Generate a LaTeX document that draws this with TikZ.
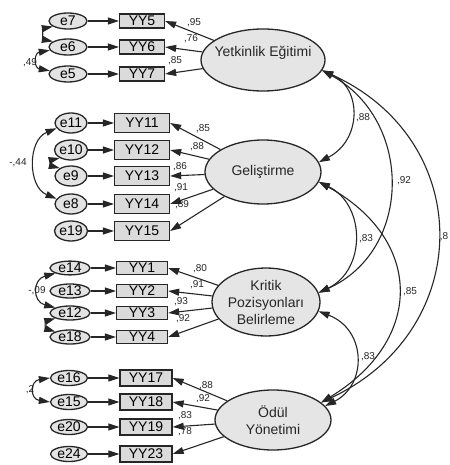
\documentclass[tikz,border=0pt]{standalone}
\usepackage{fontspec}
\setmainfont{Liberation Sans}
\usetikzlibrary{arrows.meta,shapes}

\begin{document}
\begin{tikzpicture}[x=1pt,y=-1pt,>={Triangle[length=11pt,width=7pt]},line width=1.1pt,
  obs/.style={draw=black!85,fill=black!14,line width=1.3pt,inner sep=0pt,font=\fontsize{14}{14}\selectfont},
  err/.style={draw=black!85,fill=black!11,line width=1.3pt,ellipse,inner sep=0pt,font=\fontsize{14}{14}\selectfont},
  lat/.style={draw=black!85,fill=black!10,line width=1.3pt,ellipse,inner sep=0pt},
  latname/.style={font=\fontsize{14}{17}\selectfont,align=center,text=black!85},
  coef/.style={font=\fontsize{10}{10}\selectfont,inner sep=0pt,text=black!85},
  load/.style={->,draw=black!85},
  cov/.style={<->,draw=black!85}]
\useasboundingbox (0,0) rectangle (449,465);

% factors
\node[lat,minimum width=124,minimum height=62,label={[latname,yshift=7pt]center:Yetkinlik Eğitimi}] (yetkin) at (263,60) {};
\node[lat,minimum width=116,minimum height=64,label={[latname]center:Geliştirme}] (gel) at (263,172) {};
\node[lat,minimum width=108,minimum height=68,label={[latname]center:Kritik\\Pozisyonları\\Belirleme}] (kritik) at (266,302) {};
\node[lat,minimum width=116,minimum height=60,label={[latname]center:Ödül\\Yönetimi}] (odul) at (273,420) {};

% items with their error terms
\foreach \e/\v/\y in {7/5/21,6/6/47,5/7/74}{
  \node[err,minimum width=38,minimum height=16] (e\e) at (68,\y) {e\e};
  \node[obs,minimum width=45,minimum height=14] (yy\v) at (142,\y) {YY\v};
  \draw[load] (e\e) -- (yy\v);
}
\foreach \e/\v/\y in {11/11/123,10/12/150,9/13/176,8/14/204,19/15/231}{
  \node[err,minimum width=32,minimum height=20] (e\e) at (71,\y) {e\e};
  \node[obs,minimum width=55,minimum height=19] (yy\v) at (142,\y) {YY\v};
  \draw[load] (e\e) -- (yy\v);
}
\foreach \e/\v/\y in {14/1/268,13/2/291,12/3/313,18/4/337}{
  \node[err,minimum width=40,minimum height=13] (e\e) at (70,\y) {e\e};
  \node[obs,minimum width=51,minimum height=13] (yy\v) at (142,\y) {YY\v};
  \draw[load] (e\e) -- (yy\v);
}
\foreach \e/\v/\y in {16/17/378,15/18/402,20/19/427,24/23/454}{
  \node[err,minimum width=37,minimum height=15] (e\e) at (69,\y) {e\e};
  \node[obs,minimum width=52,minimum height=16] (yy\v) at (146,\y) {YY\v};
  \draw[load] (e\e) -- (yy\v);
}

% loadings
\foreach \f/\v/\c/\cx/\cy in {yetkin/5/{,95}/194/23,yetkin/6/{,76}/191/39,yetkin/7/{,85}/175/61,
  gel/11/{,85}/203/129,gel/12/{,88}/197/147,gel/13/{,86}/180/167,gel/14/{,91}/181/188,gel/15/{,89}/182/205,
  kritik/1/{,80}/200/269,kritik/2/{,91}/197/285,kritik/3/{,93}/181/302,kritik/4/{,92}/183/319,
  odul/17/{,88}/206/386,odul/18/{,92}/203/399,odul/19/{,83}/185/416,odul/23/{,78}/185/432}{
  \draw[load] (\f) -- (yy\v.east);
  \node[coef] (c\v) at (\cx,\cy) {\c};
}

% error covariances
\draw[cov] (e7.200) .. controls +(-10,2) and +(-10,-2) .. (e6.160);
\draw[cov] (e6.190) .. controls +(-16,3) and +(-16,-3) .. (e5.170);
\node[coef] (r65) at (30,63) {,49};
\draw[cov] (e11.200) .. controls +(-29,12) and +(-29,-12) .. (e8.160);
\node[coef] (r118) at (18,163) {-,44};
\draw[cov] (e10.215) .. controls +(-8,2) and +(-8,-2) .. (e9.145);
\draw[cov] (e14.200) .. controls +(-23,6) and +(-23,-6) .. (e12.160);
\node[coef] (r1412) at (37,291) {-,09};
\draw[cov] (e12.200) .. controls +(-10,3) and +(-10,-3) .. (e18.160);
\draw[cov] (e16.west) .. controls +(-20,3) and +(-20,-3) .. (e15.west);
\node[coef] (r1615) at (30,390) {,2};

% factor covariances
\draw[cov] (yetkin.-10) .. controls (362,88) and (362,140) .. (gel.10);
\draw[cov] (yetkin.-10) .. controls (413,120) and (413,250) .. (kritik.10);
\draw[cov] (yetkin.-10) .. controls (476,140) and (476,330) .. (odul.20);
\draw[cov] (gel.-10) .. controls (366,205) and (366,270) .. (kritik.10);
\draw[cov] (gel.-10) .. controls (424,240) and (424,340) .. (odul.20);
\draw[cov] (kritik.-10) .. controls (367,330) and (367,385) .. (odul.15);
\node[coef] (r12) at (363,118) {,88};
\node[coef] (r13) at (404,181) {,92};
\node[coef] (r14) at (444,237) {,8};
\node[coef] (r23) at (366,239) {,83};
\node[coef] (r24) at (410,292) {,85};
\node[coef] (r34) at (368,357) {,83};
\end{tikzpicture}
\end{document}
